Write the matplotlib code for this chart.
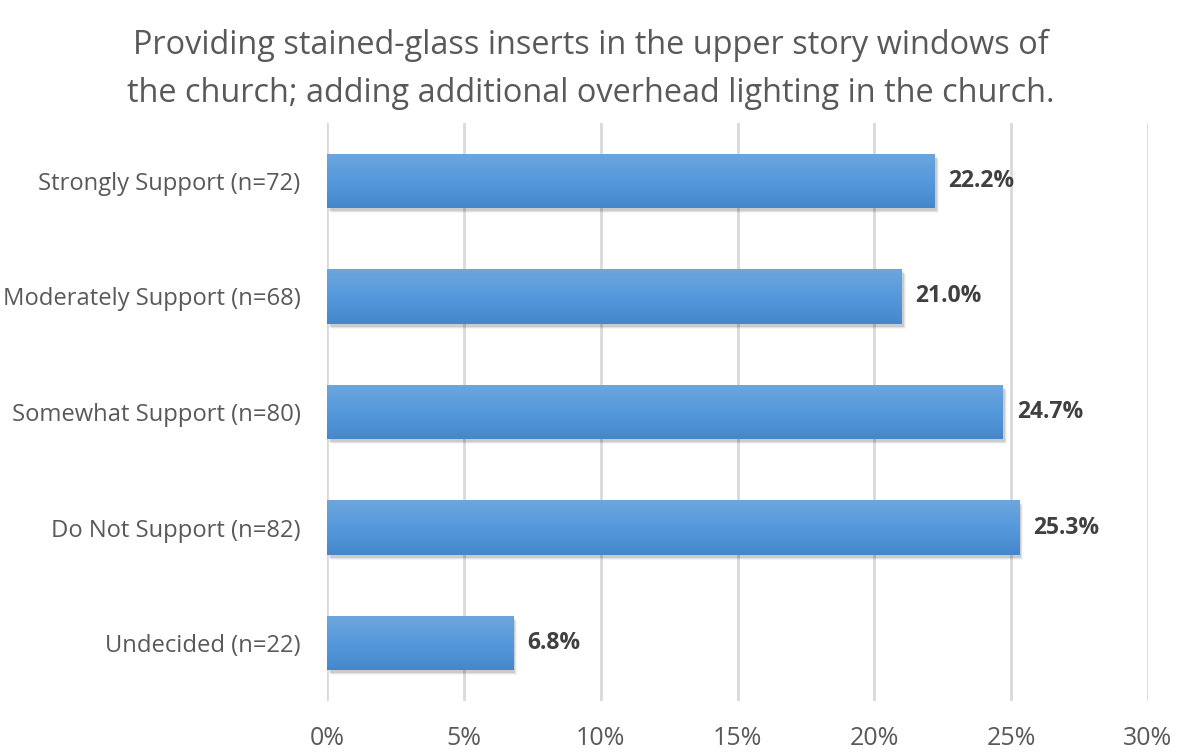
import numpy as np
import matplotlib.pyplot as plt
from matplotlib.colors import LinearSegmentedColormap
import matplotlib.transforms as mtransforms

# Data
categories = ['Strongly Support (n=72)', 'Moderately Support (n=68)', 'Somewhat Support (n=80)',
              'Do Not Support (n=82)', 'Undecided (n=22)']
values = [22.2, 21.0, 24.7, 25.3, 6.8]
xticks = [0, 5, 10, 15, 20, 25, 30]

plt.rcParams['font.family'] = ['Open Sans', 'DejaVu Sans']

fig = plt.figure(figsize=(11.81, 7.52), dpi=100)
ax = fig.add_axes([0.2769, 0.0678, 0.6952, 0.7686])

y = np.arange(len(categories))
bar_h = 0.47
cmap = LinearSegmentedColormap.from_list('bluegrad', ['#6ea6dd', '#5599dc', '#4687cb'])
grad = np.linspace(0, 1, 256).reshape(-1, 1)

for yi, v in zip(y, values):
    # soft shadow
    for k, a in enumerate([0.10, 0.07, 0.04]):
        off = mtransforms.offset_copy(ax.transData, fig=fig, x=2 + k, y=-3 - k, units='dots')
        ax.barh(yi, v, height=bar_h, color='black', alpha=a, transform=off, zorder=2, linewidth=0)
    bar = ax.barh(yi, v, height=bar_h, color='#5599dc', zorder=3, linewidth=0)[0]
    im = ax.imshow(grad, cmap=cmap, aspect='auto', zorder=4,
                   extent=[0, v, yi + bar_h / 2, yi - bar_h / 2], origin='upper')
    im.set_clip_path(bar)
    ax.annotate(f'{v:.1f}%', xy=(v, yi), xytext=(10, 0), textcoords='offset points',
                ha='left', va='center', fontsize=16.5, fontweight='bold', color='#404040')

ax.set_xlim(0, 30)
ax.set_ylim(len(categories) - 0.5, -0.5)
ax.set_xticks(xticks)
ax.set_xticklabels([f'{t}%' for t in xticks], fontsize=18, color='#595959')
ax.set_yticks(y)
ax.set_yticklabels(categories, fontsize=17.1, color='#595959')
ax.tick_params(axis='both', length=0)
ax.tick_params(axis='x', pad=18)
ax.tick_params(axis='y', pad=19)
ax.xaxis.grid(True, color='#d9d9d9', linewidth=2, zorder=0)
ax.set_axisbelow(True)
for s in ax.spines.values():
    s.set_visible(False)

fig.text(0.5, 0.962, 'Providing stained-glass inserts in the upper story windows of\n'
         'the church; adding additional overhead lighting in the church.',
         ha='center', va='top', fontsize=23.4, color='#595959', linespacing=1.62)

fig.savefig('out.png', dpi=100)
